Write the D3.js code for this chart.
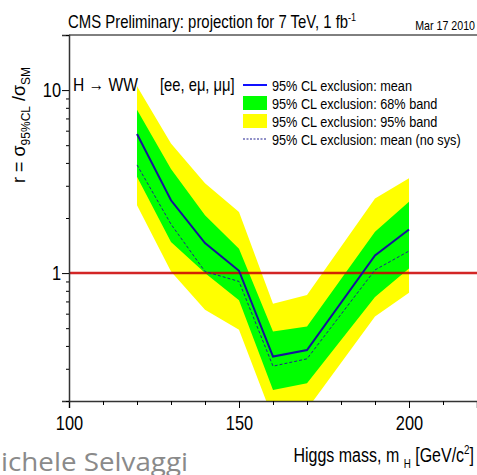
<!DOCTYPE html>
<html>
<head>
<meta charset="utf-8">
<script src="https://cdn.jsdelivr.net/npm/d3@7"></script>
<style>
  body { margin: 0; background: #fff; }
  text { font-family: "Liberation Sans", Arial, sans-serif; fill: #000; }
</style>
</head>
<body>
<div id="chart"></div>
<script>
// Higgs mass points [GeV/c^2]
var masses = [120, 130, 140, 150, 160, 170, 190, 200];
// expected 95% CL exclusion, r = sigma95 / sigmaSM
var meanLimit = [5.75, 2.5, 1.46, 1.03, 0.35, 0.38, 1.25, 1.73];
var meanNoSys = [3.9, 1.85, 1.02, 0.9, 0.31, 0.34, 1.04, 1.32];
var band68Low = [3.36, 1.48, 1.0, 0.71, 0.23, 0.25, 0.74, 1.06];
var band68High = [7.8, 3.7, 2.07, 1.36, 0.48, 0.51, 1.68, 2.45];
var band95Low = [2.35, 1.02, 0.63, 0.49, 0.16, 0.18, 0.58, 0.78];
var band95High = [10.5, 5.1, 3.1, 2.16, 0.68, 0.76, 2.56, 3.3];

// axis ticks
var xMajorTicks = [100, 150, 200];
var xMinorTicks = [110, 120, 130, 140, 160, 170, 180, 190, 210, 220];
var yMajorTicks = [1, 10];
var yMinorTicks = [0.2, 0.3, 0.4, 0.5, 0.6, 0.7, 0.8, 0.9, 2, 3, 4, 5, 6, 7, 8, 9, 20];

var legendLabels = [
   "95% CL exclusion: mean",
   "95% CL exclusion: 68% band",
   "95% CL exclusion: 95% band",
   "95% CL exclusion: mean (no sys)"
];

var svgWidth = 477;
var svgHeight = 475;
var margin = { top: 35, right: 0, bottom: 74, left: 69 };
var width = svgWidth - margin.left - margin.right;
var height = svgHeight - margin.top - margin.bottom;

// no narrow helvetica installed, so squeeze the text horizontally
var squeeze = 0.82;

var svg = d3.select("#chart")
   .append("svg")
   .attr("width", svgWidth)
   .attr("height", svgHeight)
   .style("background", "#fff");

var chartGroup = svg.append("g")
   .attr("transform", `translate(${margin.left}, ${margin.top})`);

var xScale = d3.scaleLinear().domain([100, 220]).range([0, width]);
var yScale = d3.scaleLog().domain([0.2, 20]).range([height, 0]);

var rows = masses.map(function (m, i) {
   return {
      m: m, mean: meanLimit[i], nosys: meanNoSys[i],
      lo68: band68Low[i], hi68: band68High[i],
      lo95: band95Low[i], hi95: band95High[i]
   };
});

chartGroup.append("clipPath")
   .attr("id", "plotClip")
   .append("rect")
   .attr("width", width)
   .attr("height", height);

var plot = chartGroup.append("g").attr("clip-path", "url(#plotClip)");

// bands
var area95 = d3.area()
   .x(d => xScale(d.m))
   .y0(d => yScale(d.lo95))
   .y1(d => yScale(d.hi95));
var area68 = d3.area()
   .x(d => xScale(d.m))
   .y0(d => yScale(d.lo68))
   .y1(d => yScale(d.hi68));

plot.append("path").datum(rows).attr("d", area95).attr("fill", "#ffff00");
plot.append("path").datum(rows).attr("d", area68).attr("fill", "#00ff00");

// r = 1 line
plot.append("line")
   .attr("x1", 0).attr("x2", width)
   .attr("y1", yScale(1)).attr("y2", yScale(1))
   .attr("stroke", "#cc0000")
   .attr("stroke-width", 2.5)
   .attr("opacity", 0.85);

var meanLine = d3.line().x(d => xScale(d.m)).y(d => yScale(d.mean));
var noSysLine = d3.line().x(d => xScale(d.m)).y(d => yScale(d.nosys));

plot.append("path").datum(rows).attr("d", noSysLine)
   .attr("fill", "none")
   .attr("stroke", "#202090")
   .attr("stroke-width", 1)
   .attr("stroke-dasharray", "3,2");
plot.append("path").datum(rows).attr("d", meanLine)
   .attr("fill", "none")
   .attr("stroke", "#14149a")
   .attr("stroke-width", 2);

// frame top line
chartGroup.append("line")
   .attr("x1", 0).attr("x2", width)
   .attr("y1", 0).attr("y2", 0)
   .attr("stroke", "#000").attr("stroke-width", 1);

// axes
var xAxis = chartGroup.append("g")
   .attr("transform", `translate(0, ${height})`)
   .call(d3.axisBottom(xScale).tickValues(xMajorTicks).tickSize(7).tickPadding(8).tickFormat(d3.format("d")));
chartGroup.append("g")
   .attr("transform", `translate(0, ${height})`)
   .call(d3.axisBottom(xScale).tickValues(xMinorTicks).tickSize(4).tickFormat(""))
   .select(".domain").remove();

var yAxis = chartGroup.append("g")
   .call(d3.axisLeft(yScale).tickValues(yMajorTicks).tickSize(7).tickFormat(d3.format("d")));
chartGroup.append("g")
   .call(d3.axisLeft(yScale).tickValues(yMinorTicks).tickSize(3).tickFormat(""))
   .select(".domain").remove();

chartGroup.selectAll(".tick text")
   .style("font-family", "\"Liberation Sans\", Arial, sans-serif")
   .style("font-size", "20px");
xAxis.selectAll(".tick text").attr("transform", `scale(${squeeze},1)`);
yAxis.selectAll(".tick text")
   .attr("x", -8 / squeeze)
   .attr("transform", `scale(${squeeze},1)`);
chartGroup.selectAll(".domain").attr("stroke", "#333").attr("stroke-width", 1.5);

// title
var title = svg.append("text")
   .attr("transform", `translate(68, 28) scale(${squeeze},1)`)
   .style("font-size", "18.2px");
title.append("tspan").text("CMS Preliminary: projection for 7 TeV, 1 fb");
title.append("tspan").attr("dy", -7).style("font-size", "11px").text("-1");

svg.append("text")
   .attr("transform", `translate(475, 30) scale(${squeeze},1)`)
   .attr("text-anchor", "end")
   .style("font-size", "13px")
   .text("Mar 17 2010");

// channel label
svg.append("text")
   .attr("transform", `translate(73, 91) scale(${squeeze},1)`)
   .style("font-size", "19px")
   .text("H \u2192 WW");
svg.append("text")
   .attr("transform", `translate(160, 91) scale(${squeeze},1)`)
   .style("font-size", "18px")
   .text("[ee, e\u03bc, \u03bc\u03bc]");

// legend
var legend = svg.append("g").attr("transform", "translate(243, 85)");
var rowGap = 18;
legend.append("line")
   .attr("x1", 0).attr("x2", 24).attr("y1", 0).attr("y2", 0)
   .attr("stroke", "#1010ff").attr("stroke-width", 2);
legend.append("rect")
   .attr("x", 0).attr("y", rowGap - 7).attr("width", 24).attr("height", 14)
   .attr("fill", "#00ff00");
legend.append("rect")
   .attr("x", 0).attr("y", rowGap * 2 - 7).attr("width", 24).attr("height", 14)
   .attr("fill", "#ffff00");
legend.append("line")
   .attr("x1", 0).attr("x2", 24).attr("y1", rowGap * 3).attr("y2", rowGap * 3)
   .attr("stroke", "#202090").attr("stroke-width", 1).attr("stroke-dasharray", "2,1.5");
legend.selectAll("text.leg")
   .data(legendLabels)
   .enter()
   .append("text")
   .attr("class", "leg")
   .attr("transform", (d, i) => `translate(29, ${i * rowGap + 5.5}) scale(${squeeze},1)`)
   .style("font-size", "15.5px")
   .text(d => d);

// y axis title
var yTitle = svg.append("text")
   .attr("transform", "translate(25, 183) rotate(-90)")
   .style("font-size", "18px");
yTitle.append("tspan").text("r = \u03c3");
yTitle.append("tspan").attr("dy", 5).style("font-size", "12px").text("95%CL");
yTitle.append("tspan").attr("dy", -5).text(" /\u03c3");
yTitle.append("tspan").attr("dy", 5).style("font-size", "12px").text("SM");

// x axis title
var xTitle = svg.append("text")
   .attr("transform", `translate(474, 462) scale(${squeeze},1)`)
   .attr("text-anchor", "end")
   .style("font-size", "19.5px");
xTitle.append("tspan").text("Higgs mass, m ");
xTitle.append("tspan").attr("dy", 6).style("font-size", "12px").text("H");
xTitle.append("tspan").attr("dy", -6).text(" [GeV/c");
xTitle.append("tspan").attr("dy", -8).style("font-size", "12px").text("2");
xTitle.append("tspan").attr("dy", 8).text("]");

// slide footer remnant
svg.append("text")
   .attr("x", 1)
   .attr("y", 471)
   .attr("textLength", 187)
   .attr("lengthAdjust", "spacingAndGlyphs")
   .style("font-family", "\"Open Sans\", sans-serif")
   .style("font-size", "26px")
   .style("fill", "#8a8a8a")
   .text("ichele Selvaggi");
</script>
</body>
</html>
